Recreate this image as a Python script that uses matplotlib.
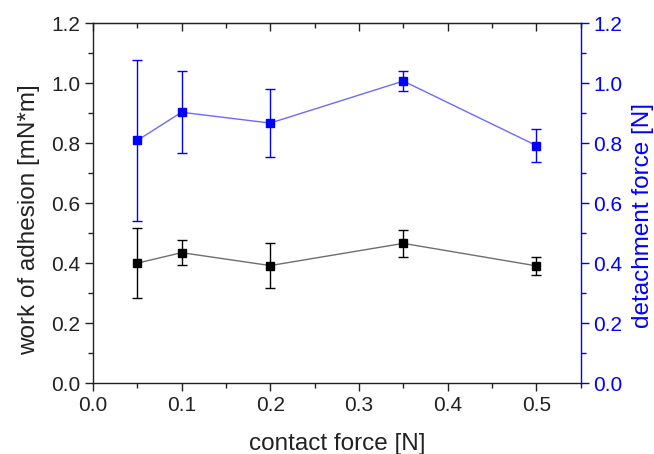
import matplotlib
matplotlib.use('Agg')
import matplotlib.pyplot as plt
from matplotlib.ticker import MultipleLocator

plt.rcParams['font.family'] = ['Liberation Sans', 'DejaVu Sans']

# contact force series
contact_force = [0.05, 0.1, 0.2, 0.35, 0.5]

# work of adhesion [mN*m]
adhesion = [0.40, 0.435, 0.392, 0.466, 0.391]
adhesion_err = [0.117, 0.042, 0.074, 0.044, 0.031]

# detachment force [N]
detachment = [0.809, 0.903, 0.867, 1.007, 0.792]
detachment_err = [0.267, 0.136, 0.113, 0.032, 0.055]

blue = '#0000ff'
dark = '#222222'
tick_size = 15
label_size = 17.5

fig = plt.figure(figsize=(6.54, 4.54), dpi=100)
ax = fig.add_axes([0.142, 0.156, 0.746, 0.793])
ax2 = ax.twinx()

ax.errorbar(contact_force, adhesion, yerr=adhesion_err, fmt='none',
            ecolor='black', elinewidth=1.0, capsize=3.5, capthick=1.0, zorder=3)
ax.plot(contact_force, adhesion, color='#6e6e6e', linewidth=1.0, zorder=2)
ax.plot(contact_force, adhesion, linestyle='none', marker='s', markersize=5.5,
        color='black', zorder=4)

ax2.errorbar(contact_force, detachment, yerr=detachment_err, fmt='none',
             ecolor=blue, elinewidth=1.0, capsize=3.5, capthick=1.0, zorder=3)
ax2.plot(contact_force, detachment, color='#6a6aff', linewidth=1.0, zorder=2)
ax2.plot(contact_force, detachment, linestyle='none', marker='s', markersize=5.5,
         color=blue, zorder=4)

ax.set_xlim(0, 0.55)
ax.set_ylim(0, 1.2)
ax2.set_ylim(0, 1.2)

ax.xaxis.set_major_locator(MultipleLocator(0.1))
ax.xaxis.set_minor_locator(MultipleLocator(0.05))
ax.yaxis.set_major_locator(MultipleLocator(0.2))
ax.yaxis.set_minor_locator(MultipleLocator(0.1))
ax2.yaxis.set_major_locator(MultipleLocator(0.2))
ax2.yaxis.set_minor_locator(MultipleLocator(0.1))

ax.xaxis.set_major_formatter('{x:.1f}')
ax.yaxis.set_major_formatter('{x:.1f}')
ax2.yaxis.set_major_formatter('{x:.1f}')

ax.tick_params(axis='both', which='major', direction='out', length=6, width=1,
               labelsize=tick_size, colors=dark, pad=3)
ax.tick_params(axis='both', which='minor', direction='out', length=3.5, width=1,
               colors=dark)
ax.tick_params(axis='x', top=False)
ax.tick_params(axis='y', right=False)

ax2.tick_params(axis='y', which='major', direction='out', length=6, width=1,
                labelsize=tick_size, colors=blue, pad=3)
ax2.tick_params(axis='y', which='minor', direction='out', length=3.5, width=1,
                colors=blue)

# top axis: ticks only, pointing inward
top = ax.secondary_xaxis('top')
top.xaxis.set_major_locator(MultipleLocator(0.1))
top.xaxis.set_minor_locator(MultipleLocator(0.05))
top.tick_params(which='major', direction='in', length=6, width=1,
                labeltop=False, colors=dark)
top.tick_params(which='minor', direction='in', length=3.5, width=1,
                colors=dark)
top.spines['top'].set_color(dark)

for side in ['left', 'bottom', 'top']:
    ax.spines[side].set_color(dark)
    ax.spines[side].set_linewidth(1.0)
ax2.spines['right'].set_color(blue)
ax2.spines['right'].set_linewidth(1.0)
for side in ['left', 'bottom', 'top']:
    ax2.spines[side].set_visible(False)
ax.spines['right'].set_visible(False)

ax.set_xlabel('contact force [N]', fontsize=label_size, color=dark, labelpad=13)
ax.set_ylabel('work of adhesion [mN*m]', fontsize=label_size, color=dark, labelpad=8)
ax2.set_ylabel('detachment force [N]', fontsize=label_size, color=blue, labelpad=7)

# axis titles sit a little below the middle of the plot
ax.yaxis.label.set_y(0.453)
ax2.yaxis.label.set_y(0.467)

fig.savefig('out.png', dpi=100)
